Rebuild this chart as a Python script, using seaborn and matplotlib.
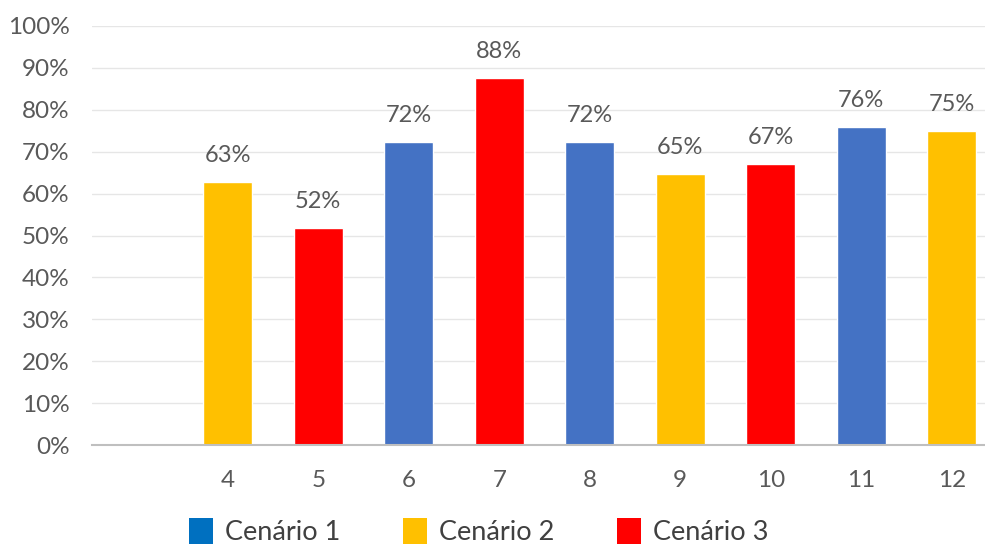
import matplotlib
matplotlib.use("Agg")
import matplotlib.pyplot as plt
from matplotlib.patches import Patch
from matplotlib.ticker import PercentFormatter
import seaborn as sns
import pandas as pd

# Chart data
categories = ["4", "5", "6", "7", "8", "9", "10", "11", "12"]
values = [0.627, 0.517, 0.723, 0.876, 0.723, 0.647, 0.671, 0.760, 0.749]
scenarios = ["Cenário 2", "Cenário 3", "Cenário 1", "Cenário 3", "Cenário 1",
             "Cenário 2", "Cenário 3", "Cenário 1", "Cenário 2"]
scenario_names = ["Cenário 1", "Cenário 2", "Cenário 3"]
bar_colors = {"Cenário 1": "#4472C4", "Cenário 2": "#FFC000", "Cenário 3": "#FF0000"}
legend_colors = {"Cenário 1": "#0070C0", "Cenário 2": "#FFC000", "Cenário 3": "#FF0000"}

df = pd.DataFrame({"cat": categories, "val": values, "scen": scenarios})

sns.set_theme(style="white")
plt.rcParams["font.family"] = ["Lato", "DejaVu Sans"]
text_color = "#595959"

fig = plt.figure(figsize=(9.85, 5.45), dpi=100)
ax = fig.add_axes([92 / 985, 100 / 545, 905 / 985, 419 / 545])

sns.barplot(data=df, x="cat", y="val", hue="scen", order=categories,
            hue_order=scenario_names, palette=bar_colors, dodge=False,
            width=0.54, ax=ax, legend=False, saturation=1)

# value labels above each bar
for i, v in enumerate(values):
    ax.annotate(f"{v:.0%}", xy=(i, v), xytext=(0, 19), textcoords="offset points",
                ha="center", va="center", fontsize=17, color=text_color)

ax.set_xlim(-1.5, 8.5)
ax.set_ylim(0, 1)
ax.set_yticks([i / 10 for i in range(11)])
ax.yaxis.set_major_formatter(PercentFormatter(1.0, decimals=0))
ax.grid(axis="y", color="#E6E6E6", linewidth=1)
ax.set_axisbelow(True)
for side in ["left", "right", "top"]:
    ax.spines[side].set_visible(False)
ax.spines["bottom"].set_color("#BFBFBF")
ax.spines["bottom"].set_linewidth(1.5)
ax.tick_params(axis="both", length=0, labelsize=17.5, labelcolor=text_color)
ax.tick_params(axis="y", pad=16)
ax.tick_params(axis="x", pad=18)
ax.set_xlabel("")
ax.set_ylabel("")

handles = [Patch(facecolor=legend_colors[s], edgecolor="none", label=s) for s in scenario_names]
leg = fig.legend(handles=handles, loc="lower center", bbox_to_anchor=(0.486, -0.045),
                 ncol=3, frameon=False, fontsize=19.5, handlelength=0.9, handleheight=1.1,
                 handletextpad=0.45, columnspacing=2.3)
for t in leg.get_texts():
    t.set_color("#404040")

fig.savefig("out.png", dpi=100)
